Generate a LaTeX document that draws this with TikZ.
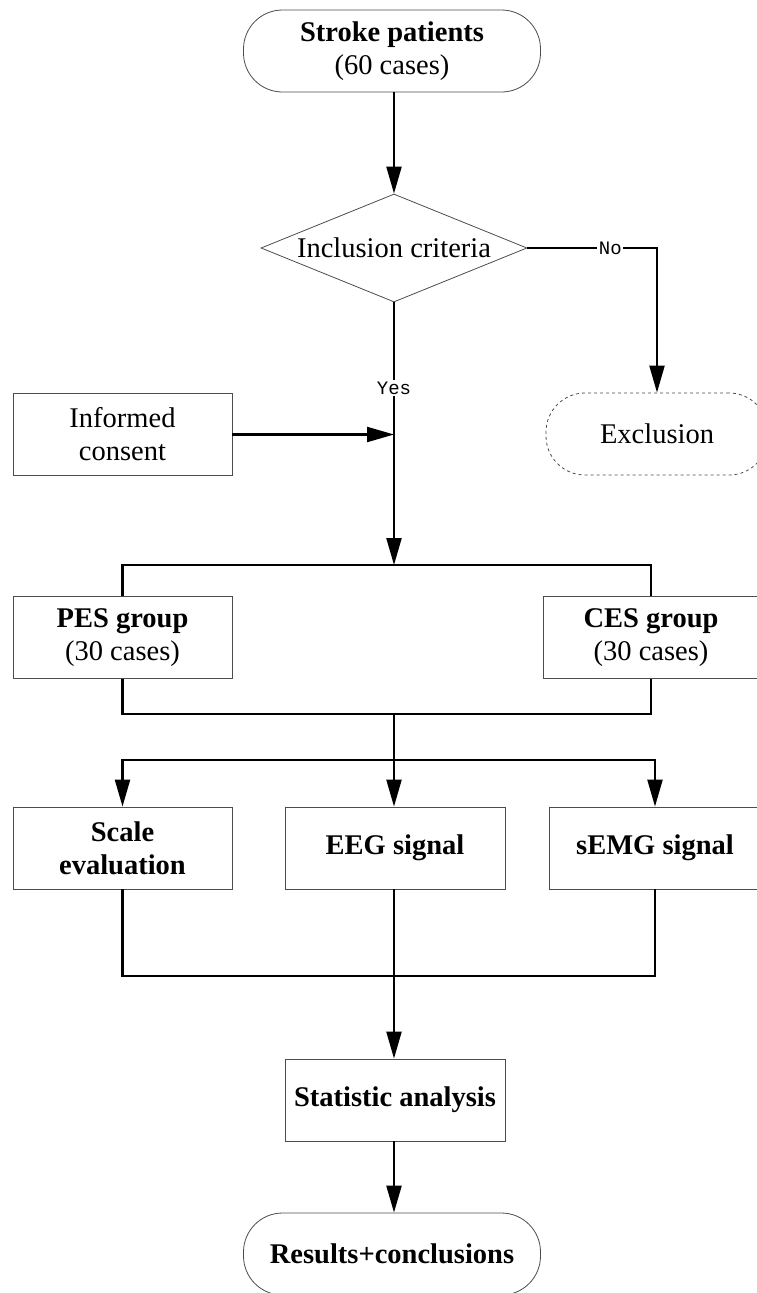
\documentclass[tikz,border=0pt]{standalone}
\usepackage{fontspec}
\setmainfont{Liberation Serif}
\newfontfamily\labfont{Liberation Mono}
\usetikzlibrary{arrows.meta,shapes.geometric}
\begin{document}
\begin{tikzpicture}[x=1pt,y=-1pt,
  every node/.style={font=\fontsize{28.5}{33}\selectfont, align=center},
  boxline/.style={draw=black!70, line width=0.8pt},
  stadium/.style={boxline, rectangle, rounded corners=39pt, minimum width=297pt, minimum height=82pt, inner sep=0pt},
  plainbox/.style={boxline, rectangle, minimum width=219pt, minimum height=82pt, inner sep=0pt},
  conn/.style={line width=2.2pt, black},
  arr/.style={conn, -{Triangle[length=27pt,width=15pt]}},
  lab/.style={font=\labfont\fontsize{19}{19}\selectfont, fill=white, inner sep=1.5pt}
]
\useasboundingbox (0,0) rectangle (757,1293);

\node[stadium] (stroke) at (392,51) {\textbf{Stroke patients}\\(60 cases)};
\node[boxline, diamond, minimum width=266pt, minimum height=108pt, inner sep=0pt, aspect=2.46] (incl) at (394,248) {Inclusion criteria};
\node[stadium, dashed, draw=black!70, minimum width=222pt] (excl) at (657,434) {Exclusion};
\node[plainbox] (consent) at (122.5,434.5) {Informed\\consent};
\node[plainbox] (pes) at (122.5,637.5) {\textbf{PES group}\\(30 cases)};
\node[plainbox, minimum width=216pt] (ces) at (651,637.5) {\textbf{CES group}\\(30 cases)};
\node[plainbox] (scale) at (122.5,848) {\textbf{Scale}\\\textbf{evaluation}};
\node[plainbox, minimum width=220pt] (eeg) at (395,848) {\textbf{EEG signal}};
\node[plainbox, minimum width=212pt] (semg) at (655,848) {\textbf{sEMG signal}};
\node[plainbox, minimum width=220pt] (stat) at (395,1100) {\textbf{Statistic analysis}};
\node[stadium] (res) at (392,1254) {\textbf{Results+conclusions}};

\coordinate (j1) at (394,565);
\coordinate (m) at (394,434.5);
\coordinate (j2) at (394,714);
\coordinate (j3) at (394,760);
\coordinate (j4) at (394,976);

\draw[arr] (stroke.south -| incl.north) -- (incl.north);
\draw[arr] (incl.east) -- node[lab, pos=0.64] {No} (excl.north |- incl.east) -- (excl.north);
\draw[arr] (incl.south) -- node[lab, pos=0.327] {Yes} (j1);
\draw[arr] (consent.east) -- (m);
\draw[conn] (pes.north) |- (j1) -| (ces.north);
\draw[conn] (pes.south) |- (j2) -| (ces.south);
\draw[arr] (j2) -- (eeg.north -| j2);
\draw[arr] (j3) -| (scale.north);
\draw[arr] (j3) -| (semg.north);
\draw[conn] (scale.south) |- (j4) -| (semg.south);
\draw[arr] (eeg.south -| j2) -- (stat.north -| j2);
\draw[arr] (stat.south -| j2) -- (res.north -| j2);
\end{tikzpicture}
\end{document}
